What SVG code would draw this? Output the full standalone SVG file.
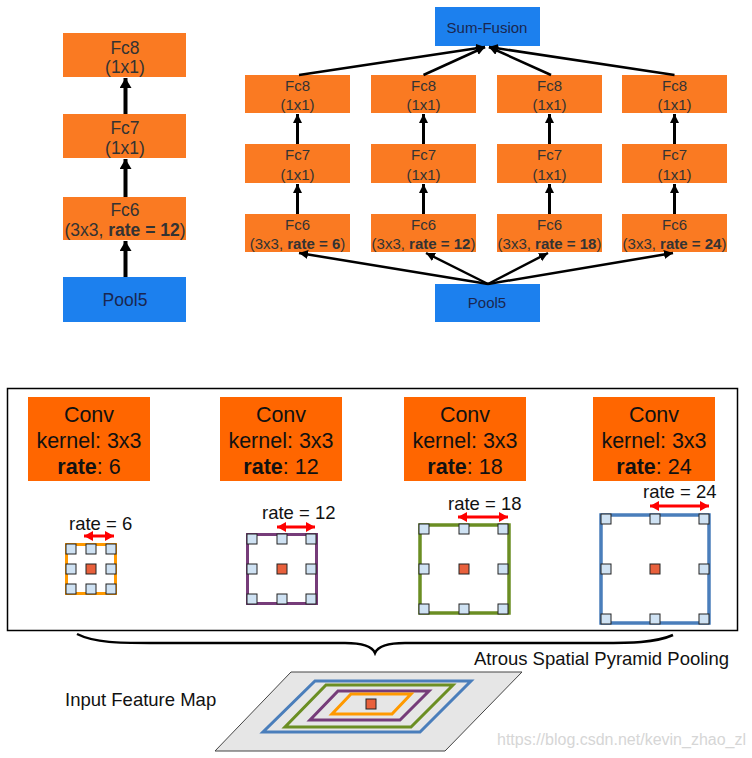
<svg xmlns="http://www.w3.org/2000/svg" width="752" height="758" viewBox="0 0 752 758">
<style>
.fc{fill:#fa7a22}
.bl{fill:#1c80ee}
.t{font-family:"Liberation Sans",Arial,sans-serif;fill:#333;text-anchor:middle}
.tl{font-size:17.5px}
.tr{font-size:15px}
.tb{fill:#1a2750}
.b{font-weight:bold}
.conv{fill:#ff6600}
.ct{font-family:"Liberation Sans",Arial,sans-serif;font-size:21.5px;fill:#111;text-anchor:middle}
.rt{font-family:"Liberation Sans",Arial,sans-serif;font-size:18.5px;fill:#111}
.sq{fill:#cfe2f3;stroke:#222;stroke-width:1}
.ctr{fill:#e8603c;stroke:#222;stroke-width:1}
.ln{stroke:#000;fill:none}
.red{stroke:#ff0000;stroke-width:3;marker-start:url(#ra);marker-end:url(#ra)}
</style>
<defs>
<marker id="ah" markerUnits="userSpaceOnUse" markerWidth="12" markerHeight="12" refX="10" refY="6" orient="auto"><path d="M0,0 L10,6 L0,12 z" fill="#000"/></marker>
<marker id="as" markerUnits="userSpaceOnUse" markerWidth="10" markerHeight="10" refX="9" refY="4.5" orient="auto"><path d="M0,0 L9,4.5 L0,9 z" fill="#000"/></marker>
<marker id="ra" markerUnits="userSpaceOnUse" markerWidth="12" markerHeight="12" refX="9" refY="5" orient="auto-start-reverse"><path d="M0,0 L9,5 L0,10 z" fill="#ff0000"/></marker>
</defs>
<rect width="752" height="758" fill="#fff"/>

<!-- Left column (DeepLab-LargeFOV) -->
<g id="l-fc8"><rect class="fc" x="63" y="33" width="123" height="44"/><text class="t tl" x="125" y="54">Fc8</text><text class="t tl" x="125" y="73">(1x1)</text></g>
<g id="l-fc7"><rect class="fc" x="63" y="114" width="123" height="44"/><text class="t tl" x="125" y="134">Fc7</text><text class="t tl" x="125" y="154">(1x1)</text></g>
<g id="l-fc6"><rect class="fc" x="63" y="197" width="123" height="43"/><text class="t tl" x="125" y="216">Fc6</text><text class="t tl" x="125" y="236">(3x3, <tspan class="b">rate = 12</tspan>)</text></g>
<g id="l-pool5"><rect class="bl" x="63" y="277" width="123" height="45"/><text class="t tl tb" x="125" y="306">Pool5</text></g>

<!-- Right (ASPP in DeepLab) -->
<g id="sum"><rect class="bl" x="435" y="7" width="105" height="39"/><text class="t tr tb" x="487" y="33">Sum-Fusion</text></g>
<g id="r-pool5"><rect class="bl" x="435" y="284" width="105" height="38"/><text class="t tr tb" x="487" y="308">Pool5</text></g>

<g id="c1-fc8"><rect class="fc" x="245" y="75" width="105" height="38"/><text class="t tr" x="297.5" y="91">Fc8</text><text class="t tr" x="297.5" y="110">(1x1)</text></g>
<g id="c1-fc7"><rect class="fc" x="245" y="144" width="105" height="39"/><text class="t tr" x="297.5" y="160">Fc7</text><text class="t tr" x="297.5" y="180">(1x1)</text></g>
<g id="c1-fc6"><rect class="fc" x="245" y="214" width="105" height="38"/><text class="t tr" x="297.5" y="230">Fc6</text><text class="t tr" x="297.5" y="249">(3x3, <tspan class="b">rate = 6</tspan>)</text></g>

<g id="c2-fc8"><rect class="fc" x="371" y="75" width="105" height="38"/><text class="t tr" x="423.5" y="91">Fc8</text><text class="t tr" x="423.5" y="110">(1x1)</text></g>
<g id="c2-fc7"><rect class="fc" x="371" y="144" width="105" height="39"/><text class="t tr" x="423.5" y="160">Fc7</text><text class="t tr" x="423.5" y="180">(1x1)</text></g>
<g id="c2-fc6"><rect class="fc" x="371" y="214" width="105" height="38"/><text class="t tr" x="423.5" y="230">Fc6</text><text class="t tr" x="423.5" y="249">(3x3, <tspan class="b">rate = 12</tspan>)</text></g>

<g id="c3-fc8"><rect class="fc" x="497" y="75" width="105" height="38"/><text class="t tr" x="549.5" y="91">Fc8</text><text class="t tr" x="549.5" y="110">(1x1)</text></g>
<g id="c3-fc7"><rect class="fc" x="497" y="144" width="105" height="39"/><text class="t tr" x="549.5" y="160">Fc7</text><text class="t tr" x="549.5" y="180">(1x1)</text></g>
<g id="c3-fc6"><rect class="fc" x="497" y="214" width="105" height="38"/><text class="t tr" x="549.5" y="230">Fc6</text><text class="t tr" x="549.5" y="249">(3x3, <tspan class="b">rate = 18</tspan>)</text></g>

<g id="c4-fc8"><rect class="fc" x="622" y="75" width="105" height="38"/><text class="t tr" x="674.5" y="91">Fc8</text><text class="t tr" x="674.5" y="110">(1x1)</text></g>
<g id="c4-fc7"><rect class="fc" x="622" y="144" width="105" height="39"/><text class="t tr" x="674.5" y="160">Fc7</text><text class="t tr" x="674.5" y="180">(1x1)</text></g>
<g id="c4-fc6"><rect class="fc" x="622" y="214" width="105" height="38"/><text class="t tr" x="674.5" y="230">Fc6</text><text class="t tr" x="674.5" y="249">(3x3, <tspan class="b">rate = 24</tspan>)</text></g>

<g id="connectors">
<line class="ln" x1="125.5" y1="277" x2="125.5" y2="241" stroke-width="4" marker-end="url(#ah)"/>
<line class="ln" x1="125.5" y1="197" x2="125.5" y2="159" stroke-width="4" marker-end="url(#ah)"/>
<line class="ln" x1="125.5" y1="114" x2="125.5" y2="78" stroke-width="4" marker-end="url(#ah)"/>
<line class="ln" x1="297.5" y1="144" x2="297.5" y2="114" stroke-width="3" marker-end="url(#as)"/>
<line class="ln" x1="297.5" y1="214" x2="297.5" y2="184" stroke-width="3" marker-end="url(#as)"/>
<line class="ln" x1="423.5" y1="144" x2="423.5" y2="114" stroke-width="3" marker-end="url(#as)"/>
<line class="ln" x1="423.5" y1="214" x2="423.5" y2="184" stroke-width="3" marker-end="url(#as)"/>
<line class="ln" x1="549.5" y1="144" x2="549.5" y2="114" stroke-width="3" marker-end="url(#as)"/>
<line class="ln" x1="549.5" y1="214" x2="549.5" y2="184" stroke-width="3" marker-end="url(#as)"/>
<line class="ln" x1="674.5" y1="144" x2="674.5" y2="114" stroke-width="3" marker-end="url(#as)"/>
<line class="ln" x1="674.5" y1="214" x2="674.5" y2="184" stroke-width="3" marker-end="url(#as)"/>
<line class="ln" x1="299" y1="75" x2="485" y2="47" stroke-width="2.5" marker-end="url(#as)"/>
<line class="ln" x1="423.5" y1="75" x2="485" y2="47" stroke-width="2.5" marker-end="url(#as)"/>
<line class="ln" x1="551" y1="75" x2="489" y2="47" stroke-width="2.5" marker-end="url(#as)"/>
<line class="ln" x1="674.5" y1="75" x2="489" y2="47" stroke-width="2.5" marker-end="url(#as)"/>
<line class="ln" x1="488" y1="284" x2="299" y2="253" stroke-width="2.5" marker-end="url(#as)"/>
<line class="ln" x1="488" y1="284" x2="426" y2="253" stroke-width="2.5" marker-end="url(#as)"/>
<line class="ln" x1="488" y1="284" x2="548" y2="253" stroke-width="2.5" marker-end="url(#as)"/>
<line class="ln" x1="488" y1="284" x2="673" y2="253" stroke-width="2.5" marker-end="url(#as)"/>
</g>

<!-- Bottom ASPP illustration -->
<rect x="7.5" y="388.5" width="730" height="242" fill="none" stroke="#000" stroke-width="1.5"/>

<g id="conv6"><rect class="conv" x="28" y="397" width="122" height="84"/><text class="ct" x="89" y="422">Conv</text><text class="ct" x="89" y="448">kernel: 3x3</text><text class="ct" x="89" y="474"><tspan font-weight="bold">rate</tspan>: 6</text></g>
<g id="conv12"><rect class="conv" x="220" y="397" width="122" height="84"/><text class="ct" x="281" y="422">Conv</text><text class="ct" x="281" y="448">kernel: 3x3</text><text class="ct" x="281" y="474"><tspan font-weight="bold">rate</tspan>: 12</text></g>
<g id="conv18"><rect class="conv" x="404" y="397" width="122" height="84"/><text class="ct" x="465" y="422">Conv</text><text class="ct" x="465" y="448">kernel: 3x3</text><text class="ct" x="465" y="474"><tspan font-weight="bold">rate</tspan>: 18</text></g>
<g id="conv24"><rect class="conv" x="593" y="397" width="122" height="84"/><text class="ct" x="654" y="422">Conv</text><text class="ct" x="654" y="448">kernel: 3x3</text><text class="ct" x="654" y="474"><tspan font-weight="bold">rate</tspan>: 24</text></g>

<g id="grid6">
<rect x="66.5" y="544.5" width="49" height="49" fill="#fff" stroke="#ff9900" stroke-width="3"/>
<text class="rt" x="69" y="530">rate = 6</text>
<line class="red" x1="84" y1="536" x2="114" y2="536"/>
<rect class="sq" x="66" y="544" width="10" height="10"/><rect class="sq" x="86" y="544" width="10" height="10"/><rect class="sq" x="106" y="544" width="10" height="10"/>
<rect class="sq" x="66" y="564" width="10" height="10"/><rect class="ctr" x="86" y="564" width="10" height="10"/><rect class="sq" x="106" y="564" width="10" height="10"/>
<rect class="sq" x="66" y="584" width="10" height="10"/><rect class="sq" x="86" y="584" width="10" height="10"/><rect class="sq" x="106" y="584" width="10" height="10"/>
</g>
<g id="grid12">
<rect x="247.5" y="534.5" width="69" height="69" fill="#fff" stroke="#763c79" stroke-width="3"/>
<text class="rt" x="262" y="519">rate = 12</text>
<line class="red" x1="277" y1="527" x2="315" y2="527"/>
<rect class="sq" x="247" y="534" width="10" height="10"/><rect class="sq" x="277" y="534" width="10" height="10"/><rect class="sq" x="306" y="534" width="10" height="10"/>
<rect class="sq" x="247" y="564" width="10" height="10"/><rect class="ctr" x="277" y="564" width="10" height="10"/><rect class="sq" x="306" y="564" width="10" height="10"/>
<rect class="sq" x="247" y="594" width="10" height="10"/><rect class="sq" x="277" y="594" width="10" height="10"/><rect class="sq" x="306" y="594" width="10" height="10"/>
</g>
<g id="grid18">
<rect x="420" y="525" width="89" height="88" fill="#fff" stroke="#6b8e23" stroke-width="3.5"/>
<text class="rt" x="448" y="510">rate = 18</text>
<line class="red" x1="458" y1="517" x2="508" y2="517"/>
<rect class="sq" x="419" y="524" width="10" height="10"/><rect class="sq" x="459" y="524" width="10" height="10"/><rect class="sq" x="498" y="524" width="10" height="10"/>
<rect class="sq" x="419" y="564" width="10" height="10"/><rect class="ctr" x="459" y="564" width="10" height="10"/><rect class="sq" x="498" y="564" width="10" height="10"/>
<rect class="sq" x="419" y="604" width="10" height="10"/><rect class="sq" x="459" y="604" width="10" height="10"/><rect class="sq" x="498" y="604" width="10" height="10"/>
</g>
<g id="grid24">
<rect x="601" y="515" width="108" height="108" fill="#fff" stroke="#4a7ebb" stroke-width="3.5"/>
<text class="rt" x="643" y="498">rate = 24</text>
<line class="red" x1="650" y1="506" x2="709" y2="506"/>
<rect class="sq" x="601" y="514" width="10" height="10"/><rect class="sq" x="650" y="514" width="10" height="10"/><rect class="sq" x="699" y="514" width="10" height="10"/>
<rect class="sq" x="601" y="564" width="10" height="10"/><rect class="ctr" x="650" y="564" width="10" height="10"/><rect class="sq" x="699" y="564" width="10" height="10"/>
<rect class="sq" x="601" y="614" width="10" height="10"/><rect class="sq" x="650" y="614" width="10" height="10"/><rect class="sq" x="699" y="614" width="10" height="10"/>
</g>

<path id="brace" d="M77,634 C95,643 120,643 150,643 L345,643 C362,643 372,646 375,653 C378,646 388,643 405,643 L600,643 C630,643 655,643 673,635" fill="none" stroke="#000" stroke-width="2.5"/>
<text class="rt" x="474" y="665">Atrous Spatial Pyramid Pooling</text>

<g id="feature-map">
<polygon points="291,672 522,672 445,751 215,751" fill="#e6e6e6" stroke="#444" stroke-width="1"/>
<polygon points="315,681 471,681 420,732 263,732" fill="none" stroke="#4a7ebb" stroke-width="3"/>
<polygon points="326,685 453,685 411,727 285,727" fill="none" stroke="#6b8e23" stroke-width="3"/>
<polygon points="338,691 429,691 400,720 310,720" fill="none" stroke="#763c79" stroke-width="3"/>
<polygon points="351,694 411,694 392,714 332,714" fill="none" stroke="#ff9900" stroke-width="3"/>
<rect class="ctr" x="366" y="699" width="10" height="10"/>
</g>
<text class="rt" x="65" y="706">Input Feature Map</text>
<text x="497" y="745" font-family="Liberation Sans,Arial,sans-serif" font-size="16" fill="#d6d6d6">https://blog.csdn.net/kevin_zhao_zl</text>
</svg>
